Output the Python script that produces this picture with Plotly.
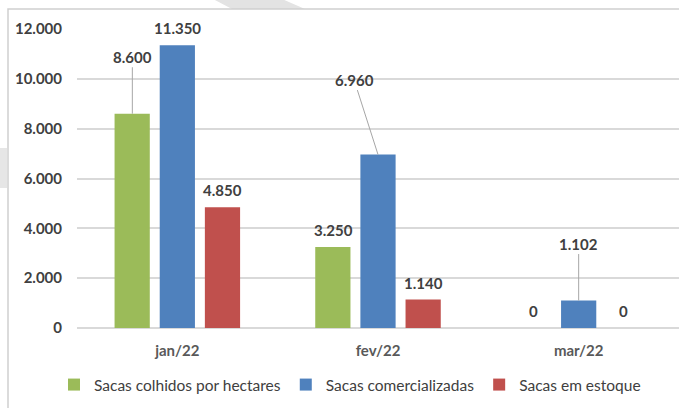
import plotly.graph_objects as go

categories = ["jan/22", "fev/22", "mar/22"]
series_names = ["Sacas colhidos por hectares", "Sacas comercializadas", "Sacas em estoque"]
colhidos = [8600, 3250, 0]
comercializadas = [11350, 6960, 1102]
estoque = [4850, 1140, 0]
y_ticks = [0, 2000, 4000, 6000, 8000, 10000, 12000]

series_values = [colhidos, comercializadas, estoque]
colors = ["#9BBB59", "#4F81BD", "#C0504D"]

W, H = 679, 408
ML, MT, MB, MR = 77, 29, 80, 0
PW, PH = W - ML - MR, H - MT - MB

def px_x(px):
    return (px - ML) / PW

def px_y(py):
    return (H - MB - py) / PH

fig = go.Figure()
for name, vals, col in zip(series_names, series_values, colors):
    fig.add_trace(go.Bar(x=categories, y=vals, name=name, marker_color=col,
                         marker_line_width=0))

def fmt(v):
    return f"{v:,}".replace(",", ".")

# label styling: pixel offsets of label centre from bar top (leader lines in Excel style)
slot = 45
series_shift = [-slot, 0, slot]
leader = {(0, 0): (0, -57), (1, 1): (-24, -75), (1, 2): (0, -57)}
label_font = dict(family="Lato", size=15, color="#404040")

annotations = []
for si, vals in enumerate(series_values):
    for ci, (cat, v) in enumerate(zip(categories, vals)):
        key = (si, ci)
        text = "<b>" + fmt(v) + "</b>"
        if key in leader:
            ax, ay = leader[key]
            annotations.append(dict(x=cat, y=v, xref="x", yref="y", text=text,
                                    xshift=series_shift[si], showarrow=True,
                                    ax=ax, ay=ay, arrowhead=0, arrowwidth=1,
                                    arrowcolor="#A6A6A6", standoff=0,
                                    font=label_font))
        else:
            annotations.append(dict(x=cat, y=v, xref="x", yref="y", text=text,
                                    xshift=series_shift[si], yshift=17,
                                    showarrow=False, font=label_font))

shapes = [
    # watermark fragments
    dict(type="path", xref="paper", yref="paper",
         path=f"M {px_x(213)} {px_y(-1)} L {px_x(282)} {px_y(-1)} L {px_x(305)} {px_y(9)} L {px_x(232)} {px_y(9)} Z",
         fillcolor="#E3E3E3", line_width=0, layer="below"),
    dict(type="rect", xref="paper", yref="paper",
         x0=px_x(-1), x1=px_x(7), y0=px_y(188), y1=px_y(148),
         fillcolor="#E6E6E6", line_width=0, layer="below"),
    # chart border
    dict(type="rect", xref="paper", yref="paper",
         x0=px_x(8), x1=px_x(720), y0=px_y(440), y1=px_y(9),
         fillcolor="rgba(0,0,0,0)", line=dict(color="#CFCFCF", width=1.5),
         layer="above"),
]

fig.update_layout(
    width=W, height=H,
    margin=dict(l=ML, r=MR, t=MT, b=MB),
    paper_bgcolor="white", plot_bgcolor="white",
    barmode="group", bargap=0.325, bargroupgap=0.22,
    separators=",.",
    font=dict(family="Lato", size=14, color="#595959"),
    showlegend=True,
    legend=dict(orientation="h", x=px_x(350), xanchor="center",
                y=px_y(385), yanchor="middle",
                font=dict(family="Lato", size=15.5, color="#404040"),
                itemwidth=30, traceorder="normal"),
    annotations=annotations,
    shapes=shapes,
)
fig.update_xaxes(showgrid=False, showline=False, ticks="",
                 tickfont=dict(family="Lato", size=15, color="#595959", weight="bold"),
                 ticklabelstandoff=12)
fig.update_yaxes(range=[0, 12000], tickvals=y_ticks, tickformat=",d",
                 showgrid=True, gridcolor="#D9D9D9", gridwidth=1.5,
                 zeroline=True, zerolinecolor="#D9D9D9", zerolinewidth=1.5,
                 showline=False, ticks="",
                 tickfont=dict(family="Lato", size=15, color="#404040", weight="bold"),
                 ticklabelstandoff=14)

fig.write_html("out.html", config={"displayModeBar": False},
               post_script="document.body.style.margin='0';")
